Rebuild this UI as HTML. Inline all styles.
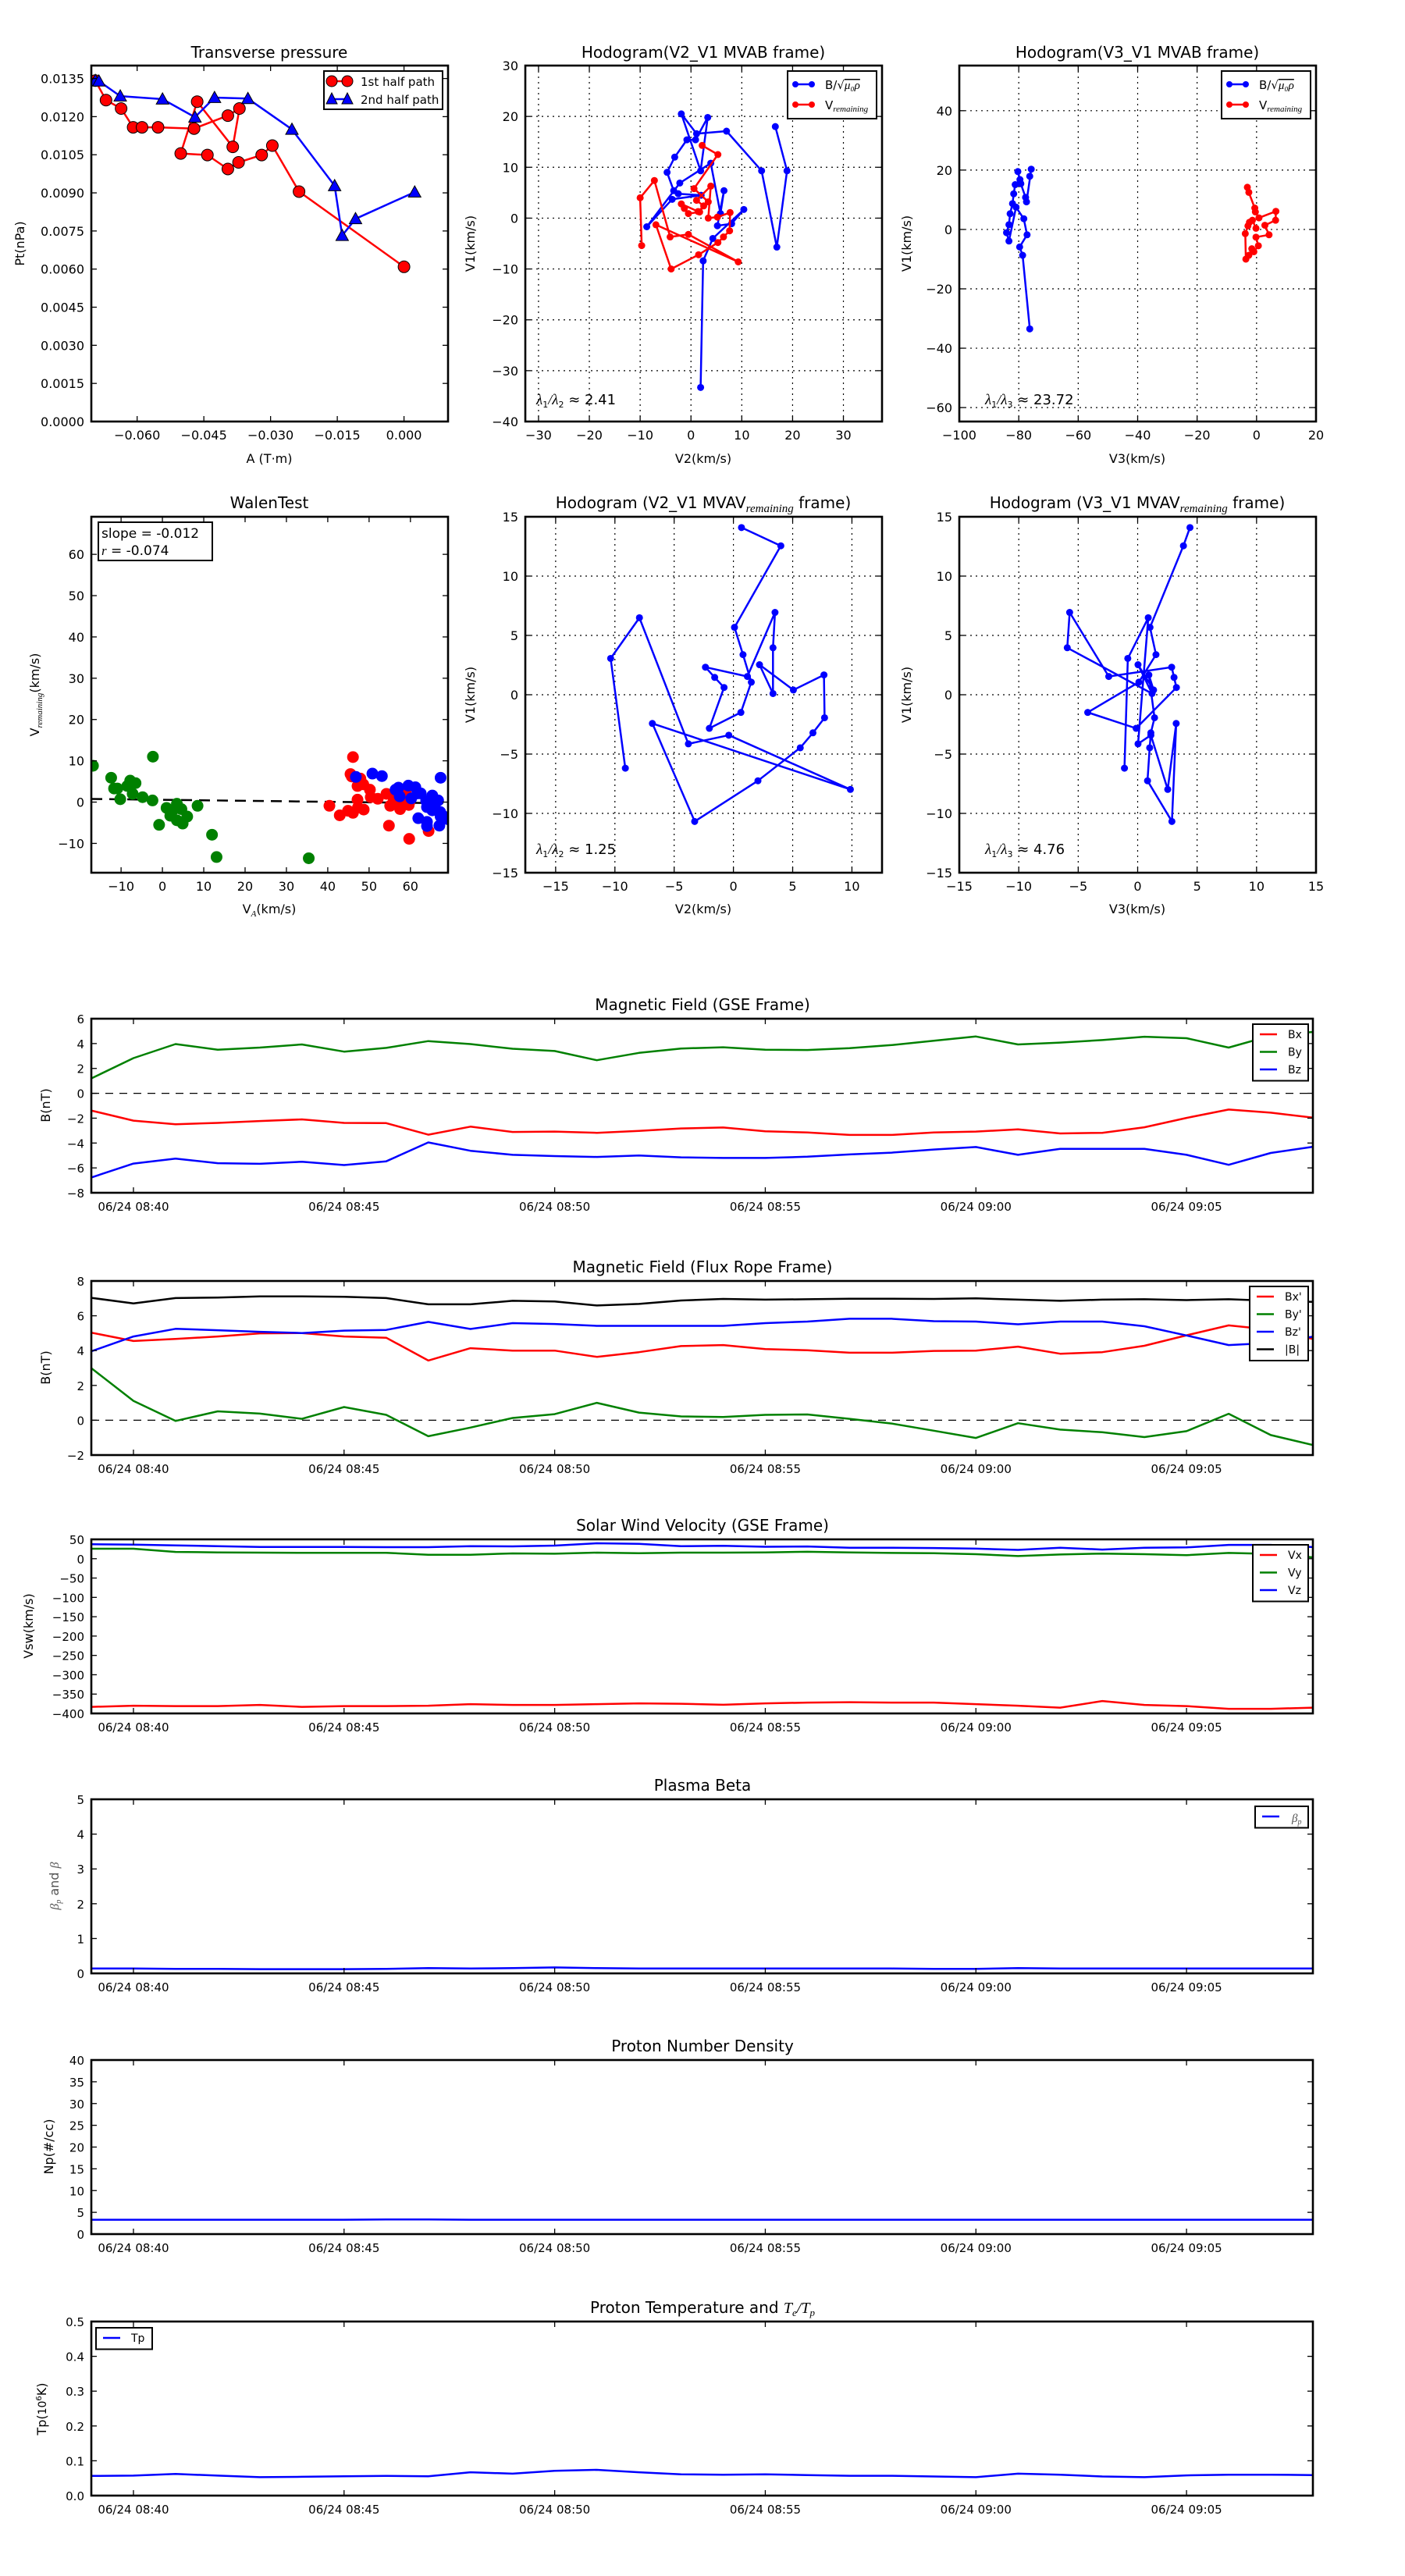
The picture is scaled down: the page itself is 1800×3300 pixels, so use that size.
<!DOCTYPE html>
<html><head><meta charset="utf-8">
<style>
html,body{margin:0;padding:0;background:#fff;}
svg{display:block;font-family:"DejaVu Sans","Liberation Sans",sans-serif;}
</style></head>
<body>
<svg id="fig" width="1800" height="3300" viewBox="0 0 1800 3300" xmlns="http://www.w3.org/2000/svg">
<rect x="0" y="0" width="1800" height="3300" fill="#fff"/>
</svg>
<script>
// ---------- DATA ----------
// Transverse pressure
const tpRedA = [-0.0694,-0.0670,-0.0636,-0.0609,-0.0589,-0.0553,-0.0472,-0.0396,-0.0370,-0.0385,-0.0465,-0.0502,-0.0442,-0.0396,-0.0372,-0.0320,-0.0296,-0.0236,0.0000];
const tpRedP = [0.01342,0.01265,0.01232,0.01158,0.01158,0.01158,0.01153,0.01204,0.01232,0.01081,0.01259,0.01055,0.01049,0.00994,0.01020,0.01049,0.01086,0.00905,0.00609];
const tpBlueA = [-0.0694,-0.0686,-0.0638,-0.0543,-0.0470,-0.0426,-0.0351,-0.0252,-0.0156,-0.0139,-0.0109,0.0024];
const tpBlueP = [0.01342,0.01340,0.01281,0.01269,0.01198,0.01275,0.01271,0.01150,0.00928,0.00732,0.00798,0.00903];
// Hodogram V2_V1 MVAB
const h1BV2 = [16.6,18.9,16.9,13.9,7.0,1.1,-1.9,1.9,3.3,0.9,-0.8,-3.2,-4.7,-3.4,-2.5,2.0,-3.7,-8.7,-2.2,3.9,5.8,6.5,5.2,8.0,10.4,4.3,2.4,1.9];
const h1BV1 = [18.0,9.3,-5.7,9.3,17.1,16.6,20.5,9.3,19.8,15.4,15.4,12.0,9.0,5.4,4.8,4.5,3.7,-1.7,6.9,10.8,0.9,5.4,-1.5,-1.1,1.7,-4.0,-8.4,-33.3];
const h1RV2 = [-9.7,-10.0,-7.2,-4.1,-0.5,9.3,-6.9,-3.9,1.5,5.3,6.4,7.6,7.7,5.2,3.4,3.9,1.1,2.5,1.7,-0.5,-1.3,-1.9,1.4,3.4,0.6,5.3,2.2];
const h1RV1 = [-5.4,4.0,7.4,-3.7,-3.2,-8.6,-1.3,-10.0,-7.2,-4.8,-3.7,-2.5,1.1,0.2,0.0,6.3,3.5,2.4,1.2,0.9,1.9,2.8,1.3,3.2,5.8,12.5,14.3];
// Hodogram V3_V1 MVAB
const h2BV3 = [-76.3,-75.8,-77.4,-77.7,-79.3,-80.3,-79.6,-81.2,-81.7,-82.1,-82.9,-83.3,-84.1,-83.3,-80.9,-78.3,-77.2,-79.7,-78.7,-76.3];
const h2BV1 = [17.9,20.3,9.3,10.8,15.4,19.5,16.8,15.1,12.0,8.7,5.3,1.6,-1.1,-3.9,7.5,3.6,-1.8,-5.9,-8.7,-33.5];
const h2RV3 = [-3.1,-2.6,-0.6,-0.4,0.8,6.5,6.4,2.8,4.2,-0.2,0.6,-0.9,-1.6,-2.6,-3.6,-3.8,-2.9,-2.4,-1.4,-0.2];
const h2RV1 = [14.2,12.5,7.2,5.9,3.9,6.1,3.1,1.4,-1.8,-2.6,-5.5,-7.5,-6.5,-8.7,-10.0,-1.4,1.2,2.4,3.1,0.4];
// Walen test
const walenGreenX = [-16.8,-12.4,-11.7,-10.9,-10.2,-8.5,-7.8,-6.5,-7.2,-4.8,-2.3,-2.4,-0.8,1.0,1.9,2.6,3.5,3.5,4.6,4.9,6.0,8.5,12.0,13.1,35.4];
const walenGreenY = [8.8,5.9,3.3,3.3,0.7,3.9,5.2,4.6,2.0,1.2,11.0,0.4,-5.5,-1.4,-3.3,-1.9,-0.4,-4.4,-1.7,-5.2,-3.5,-0.9,-7.9,-13.3,-13.6];
const walenRedX = [40.4,42.9,44.9,46.1,45.5,45.8,46.1,47.2,47.2,47.3,47.9,48.6,48.7,50.2,50.4,52.1,54.2,54.8,55.1,55.9,57.1,57.5,58.9,59.6,59.7,64.4,59.8];
const walenRedY = [-0.9,-3.2,-2.1,-2.6,6.8,6.2,10.9,3.9,0.6,-1.3,5.7,4.3,-1.8,3.0,1.2,0.8,2.0,-5.7,-0.9,1.0,0.1,-1.7,2.1,-0.7,-8.9,-7.0,0.1];
const walenBlueX = [46.8,50.8,53.1,56.4,57.1,57.4,59.5,60.2,61.2,61.7,62.5,61.9,63.8,64.0,64.0,64.0,65.3,65.3,65.9,66.7,67.2,67.3,67.3,67.0,68.1,68.9];
const walenBlueY = [6.1,6.9,6.3,3.0,3.5,1.4,4.0,0.9,3.6,2.1,2.1,-3.9,0.3,-1.2,-4.8,-5.8,1.6,-2.0,-0.6,0.4,-2.4,5.9,-3.5,-5.7,-3.5,-4.1];
const walenSlope = -0.012;
const walenIntercept = 0.55;
// Hodograms MVAV
const mvavV1 = [-6.19,3.06,6.49,-4.14,-3.41,-7.98,-2.42,-10.68,-7.25,-4.47,-3.21,-1.94,1.67,0.40,2.53,0.10,3.96,6.94,1.54,2.32,1.46,0.61,-2.83,-1.49,1.06,3.38,5.68,12.55,14.09];
const mvavV2 = [-9.12,-10.36,-7.93,-3.80,-0.39,9.87,-6.84,-3.27,2.07,5.64,6.71,7.69,7.64,5.06,2.20,3.34,3.34,3.51,1.18,-2.36,-1.58,-0.79,-2.03,0.63,1.51,0.81,0.09,4.0,0.68];
const mvavV3 = [-1.11,-0.83,0.89,0.03,1.11,2.53,3.24,2.88,0.83,1.01,1.11,1.42,0.94,1.34,0.03,1.21,-5.92,-5.72,-2.43,2.86,3.06,3.26,-0.13,-4.20,0.10,1.54,1.04,3.85,4.40];
// Time series (one sample per minute, 08:39 .. 09:08)
const times = ["08:39","08:40","08:41","08:42","08:43","08:44","08:45","08:46","08:47","08:48","08:49","08:50","08:51","08:52","08:53","08:54","08:55","08:56","08:57","08:58","08:59","09:00","09:01","09:02","09:03","09:04","09:05","09:06","09:07","09:08"];
const timeTicks = ["08:40","08:45","08:50","08:55","09:00","09:05"];
const gseBx = [-1.39,-2.2,-2.49,-2.38,-2.23,-2.1,-2.38,-2.4,-3.33,-2.68,-3.11,-3.08,-3.18,-3.03,-2.83,-2.75,-3.05,-3.15,-3.35,-3.35,-3.15,-3.08,-2.9,-3.23,-3.18,-2.73,-1.98,-1.31,-1.56,-1.96];
const gseBy = [1.2,2.83,3.96,3.51,3.68,3.93,3.35,3.65,4.2,3.96,3.58,3.4,2.66,3.25,3.6,3.7,3.51,3.48,3.63,3.88,4.23,4.57,3.93,4.08,4.28,4.55,4.43,3.68,4.63,4.93];
const gseBz = [-6.77,-5.65,-5.25,-5.62,-5.67,-5.5,-5.77,-5.47,-3.95,-4.62,-4.95,-5.05,-5.12,-5.0,-5.15,-5.2,-5.2,-5.1,-4.92,-4.77,-4.52,-4.32,-4.95,-4.47,-4.47,-4.47,-4.95,-5.75,-4.8,-4.3];
const frBx = [5.03,4.55,4.67,4.81,4.99,5.01,4.81,4.74,3.43,4.14,4.0,4.0,3.64,3.91,4.26,4.32,4.09,4.02,3.88,3.88,3.98,4.0,4.23,3.82,3.91,4.28,4.88,5.45,5.2,4.67];
const frBy = [2.99,1.11,-0.04,0.51,0.38,0.08,0.76,0.31,-0.92,-0.42,0.13,0.35,1.0,0.44,0.22,0.19,0.31,0.33,0.08,-0.19,-0.6,-1.02,-0.17,-0.54,-0.69,-0.97,-0.63,0.37,-0.85,-1.42];
const frBz = [3.96,4.81,5.25,5.17,5.08,5.01,5.15,5.19,5.65,5.24,5.58,5.53,5.42,5.42,5.42,5.42,5.58,5.67,5.83,5.83,5.69,5.67,5.51,5.67,5.67,5.4,4.87,4.32,4.44,4.8];
const frBt = [7.03,6.71,7.02,7.05,7.11,7.11,7.09,7.02,6.66,6.66,6.86,6.82,6.59,6.68,6.88,6.97,6.93,6.95,6.98,6.98,6.97,7.0,6.93,6.86,6.93,6.95,6.9,6.95,6.86,6.8];
const velVx = [-383,-380,-381,-381,-378,-383,-381,-381,-380,-376,-378,-378,-376,-374,-375,-377.6,-374,-372,-371,-372,-372,-376,-380,-385,-368,-378,-381,-388,-388,-385];
const velVy = [25.7,25.7,17.6,16.3,15.6,15,15,15,10.2,10.2,13.6,12.9,15.6,14.2,15.6,15.6,16.4,18,16.4,14.8,14,11.6,6.8,10.8,13.2,11.6,9.2,14.8,12.4,3.6];
const velVz = [37.2,36.5,34.5,32.5,30.4,30.4,30.4,29.8,29.8,32.5,31.8,33.8,39.9,38.5,32.5,33.2,30.8,31.6,28.4,28.4,27.6,26,22.8,28.4,23.6,28.4,29.2,35.6,35.6,30];
const betaP = [0.14,0.14,0.13,0.13,0.12,0.12,0.12,0.13,0.15,0.14,0.15,0.17,0.15,0.14,0.14,0.14,0.14,0.14,0.14,0.14,0.13,0.13,0.15,0.14,0.14,0.14,0.14,0.14,0.14,0.14];
const densNp = [3.3,3.3,3.3,3.3,3.3,3.3,3.3,3.35,3.35,3.3,3.3,3.3,3.3,3.3,3.3,3.3,3.3,3.3,3.3,3.3,3.3,3.3,3.3,3.3,3.3,3.3,3.3,3.3,3.3,3.3];
const tempTp = [0.0565,0.0575,0.062,0.0575,0.053,0.054,0.0555,0.0565,0.0555,0.067,0.063,0.071,0.074,0.067,0.061,0.060,0.061,0.059,0.057,0.057,0.055,0.053,0.063,0.060,0.055,0.053,0.058,0.060,0.060,0.059];

// ---------- HELPERS ----------
const NS = "http://www.w3.org/2000/svg";
const svg = document.getElementById('fig');
function mk(tag, attrs, parent){
  const e = document.createElementNS(NS, tag);
  for (const k in attrs) e.setAttribute(k, attrs[k]);
  (parent || svg).appendChild(e);
  return e;
}
function txt(parent, x, y, s, size, anchor, extra){
  const t = mk('text', Object.assign({x:x, y:y, 'font-size':size, 'text-anchor':anchor||'start', fill:'#000'}, extra||{}), parent);
  t.textContent = s;
  return t;
}
function minus(v, dec){ const s = Math.abs(v).toFixed(dec); return (v < -1e-12 ? '\u2212' : '') + s; }
let clipN = 0;
function axes(o){
  const g = mk('g', {});
  
  
  const sx = v => o.x + (v - o.xmin) / (o.xmax - o.xmin) * o.w;
  const sy = v => o.y + o.h - (v - o.ymin) / (o.ymax - o.ymin) * o.h;
  const id = 'clip' + (clipN++);
  const cp = mk('clipPath', {id:id}, g);
  mk('rect', {x:o.x, y:o.y, width:o.w, height:o.h}, cp);
  const grid = mk('g', {}, g);
  const data = mk('g', {'clip-path':'url(#' + id + ')'}, g);
  
  
  const frame = mk('g', {}, g);
  const tl = 7;
  o.xticks.forEach((v, i) => {
    const px = sx(v);
    if (o.grid) {
      const gl = mk('line', {x1:px, x2:px, y1:o.y, y2:o.y + o.h, stroke:'#000', 'stroke-width':1.2, 'stroke-dasharray':'2,5'}, grid);
      
      
    }
    mk('line', {x1:px, x2:px, y1:o.y + o.h, y2:o.y + o.h - tl, stroke:'#000', 'stroke-width':1.3}, frame);
    mk('line', {x1:px, x2:px, y1:o.y, y2:o.y + tl, stroke:'#000', 'stroke-width':1.3}, frame);
    const t = txt(frame, px, o.y + o.h + 23, o.xlabels[i], o.tickSize || 16, 'middle');
    
    
  });
  o.yticks.forEach((v, i) => {
    const py = sy(v);
    if (o.grid) {
      const gl = mk('line', {x1:o.x, x2:o.x + o.w, y1:py, y2:py, stroke:'#000', 'stroke-width':1.2, 'stroke-dasharray':'2,5'}, grid);
      
      
    }
    mk('line', {x1:o.x, x2:o.x + tl, y1:py, y2:py, stroke:'#000', 'stroke-width':1.3}, frame);
    mk('line', {x1:o.x + o.w, x2:o.x + o.w - tl, y1:py, y2:py, stroke:'#000', 'stroke-width':1.3}, frame);
    const t = txt(frame, o.x - 9, py + 6, o.ylabels[i], o.tickSize || 16, 'end');
    
    
  });
  const fr = mk('rect', {x:o.x, y:o.y, width:o.w, height:o.h, fill:'none', stroke:'#000', 'stroke-width':2.6}, frame);
  
  
  return {g:g, data:data, frame:frame, sx:sx, sy:sy, o:o};
}
function range(a, b, s){ const r = []; for (let v = a; v <= b + 1e-9; v += s) r.push(Math.round(v * 1e6) / 1e6); return r; }
function poly(ax, xs, ys, color, width, name){
  const pts = xs.map((v, i) => ax.sx(v).toFixed(1) + ',' + ax.sy(ys[i]).toFixed(1)).join(' ');
  const p = mk('polyline', {points:pts, fill:'none', stroke:color, 'stroke-width':width, 'stroke-linejoin':'round'}, ax.data);
  
  
  return p;
}
function dots(ax, xs, ys, color, r, stroke, name){
  xs.forEach((v, i) => {
    const c = mk('circle', {cx:ax.sx(v), cy:ax.sy(ys[i]), r:r, fill:color, stroke:stroke || 'none', 'stroke-width':1}, ax.data);
    
    
  });
}
function tris(ax, xs, ys, color, s, name){
  xs.forEach((v, i) => {
    const cx = ax.sx(v), cy = ax.sy(ys[i]);
    const p = mk('polygon', {points:(cx) + ',' + (cy - s) + ' ' + (cx - s) + ',' + (cy + s * 0.8) + ' ' + (cx + s) + ',' + (cy + s * 0.8), fill:color, stroke:'#000', 'stroke-width':1}, ax.data);
    
    
  });
}
function title(x, y, s, size){
  const t = txt(svg, x, y, s, size || 20, 'middle');
  
  
  return t;
}
function xlab(x, y, s){
  const t = txt(svg, x, y, s, 16, 'middle');
  
  
  return t;
}
function ylab(x, y, s){
  const t = txt(svg, x, y, s, 16, 'middle', {transform:'rotate(-90 ' + x + ' ' + y + ')'});
  
  
  return t;
}
function addSub(t, s, italic, size, dy){
  const ts = document.createElementNS(NS, 'tspan');
  ts.textContent = s;
  if (italic) { ts.setAttribute('font-style', 'italic'); ts.setAttribute('font-family', 'Liberation Serif, serif'); }
  if (size) ts.setAttribute('font-size', size);
  if (dy !== undefined) ts.setAttribute('dy', dy);
  t.appendChild(ts);
  return ts;
}

// ---------- PANEL 1: Transverse pressure ----------
const a1 = axes({name:'transverse-pressure-chart', x:117, y:84, w:457, h:456, xmin:-0.0703, xmax:0.0099, ymin:0, ymax:0.01401,
  xticks:[-0.06,-0.045,-0.03,-0.015,0], xlabels:['\u22120.060','\u22120.045','\u22120.030','\u22120.015','0.000'],
  yticks:range(0,0.0135,0.0015), ylabels:range(0,0.0135,0.0015).map(v => v.toFixed(4))});
poly(a1, tpRedA, tpRedP, '#ff0000', 2.5, 'first-half-path-line');
dots(a1, tpRedA, tpRedP, '#ff0000', 7.5, '#000', 'first-half-path-marker');
poly(a1, tpBlueA, tpBlueP, '#0000ff', 2.5, 'second-half-path-line');
tris(a1, tpBlueA, tpBlueP, '#0000ff', 8, 'second-half-path-marker');
title(345, 74, 'Transverse pressure');
xlab(345, 593, 'A (T\u00b7m)');
ylab(31, 312, 'Pt(nPa)');
{
  const lg = mk('g', {});
  
  
  mk('rect', {x:415, y:91, width:152, height:49, fill:'#fff', stroke:'#000', 'stroke-width':2}, lg);
  mk('line', {x1:425, x2:445, y1:104, y2:104, stroke:'#ff0000', 'stroke-width':2.5}, lg);
  mk('circle', {cx:425, cy:104, r:7, fill:'#ff0000', stroke:'#000'}, lg);
  mk('circle', {cx:445, cy:104, r:7, fill:'#ff0000', stroke:'#000'}, lg);
  const t1 = txt(lg, 462, 110, '1st half path', 15);
  
  
  mk('line', {x1:425, x2:445, y1:127, y2:127, stroke:'#0000ff', 'stroke-width':2.5}, lg);
  mk('polygon', {points:'425,119 418,133 432,133', fill:'#0000ff', stroke:'#000'}, lg);
  mk('polygon', {points:'445,119 438,133 452,133', fill:'#0000ff', stroke:'#000'}, lg);
  const t2 = txt(lg, 462, 133, '2nd half path', 15);
  
  
}

// hodogram legend helper
function hodoLegend(x0, name){
  const lg = mk('g', {});
  
  
  mk('rect', {x:x0, y:91, width:114, height:61, fill:'#fff', stroke:'#000', 'stroke-width':2}, lg);
  mk('line', {x1:x0 + 10, x2:x0 + 31, y1:108, y2:108, stroke:'#0000ff', 'stroke-width':2.5}, lg);
  mk('circle', {cx:x0 + 10, cy:108, r:4, fill:'#0000ff'}, lg);
  mk('circle', {cx:x0 + 31, cy:108, r:4, fill:'#0000ff'}, lg);
  const t1 = txt(lg, x0 + 48, 114, 'B/\u221a', 15);
  addSub(t1, '\u03bc\u2080\u03c1', true, 15).setAttribute('text-decoration', 'overline');
  
  
  mk('line', {x1:x0 + 10, x2:x0 + 31, y1:134, y2:134, stroke:'#ff0000', 'stroke-width':2.5}, lg);
  mk('circle', {cx:x0 + 10, cy:134, r:4, fill:'#ff0000'}, lg);
  mk('circle', {cx:x0 + 31, cy:134, r:4, fill:'#ff0000'}, lg);
  const t2 = txt(lg, x0 + 48, 140, 'V', 15);
  addSub(t2, 'remaining', true, 11, 3);
  
  
}
function lambdaNote(x, y, a, b, val){
  const t = txt(svg, x, y, '', 18);
  addSub(t, '\u03bb', true, 19);
  addSub(t, a, false, 11, 4);
  addSub(t, '/', true, 18, -4);
  addSub(t, '\u03bb', true, 19);
  addSub(t, b, false, 11, 4);
  addSub(t, ' \u2248 ' + val, false, 18, -4);
  
  
}

// ---------- PANEL 2: Hodogram V2_V1 MVAB ----------
const a2 = axes({name:'hodogram-v2-v1-mvab-chart', x:673, y:84, w:457, h:456, xmin:-32.6, xmax:37.6, ymin:-40, ymax:30, grid:true,
  xticks:range(-30,30,10), xlabels:range(-30,30,10).map(v => minus(v,0)),
  yticks:range(-40,30,10), ylabels:range(-40,30,10).map(v => minus(v,0))});
poly(a2, h1BV2, h1BV1, '#0000ff', 2.5, 'b-alfven-line');
dots(a2, h1BV2, h1BV1, '#0000ff', 4.5, null, 'b-alfven-point');
poly(a2, h1RV2, h1RV1, '#ff0000', 2.5, 'v-remaining-line');
dots(a2, h1RV2, h1RV1, '#ff0000', 4.5, null, 'v-remaining-point');
title(901, 74, 'Hodogram(V2_V1 MVAB frame)');
xlab(901, 593, 'V2(km/s)');
ylab(608, 312, 'V1(km/s)');
hodoLegend(1009, 'hodogram-v2-v1-legend');
lambdaNote(687, 518, '1', '2', '2.41');

// ---------- PANEL 3: Hodogram V3_V1 MVAB ----------
const a3 = axes({name:'hodogram-v3-v1-mvab-chart', x:1229, y:84, w:457, h:456, xmin:-100, xmax:20, ymin:-64.7, ymax:55.2, grid:true,
  xticks:range(-100,20,20), xlabels:range(-100,20,20).map(v => minus(v,0)),
  yticks:range(-60,40,20), ylabels:range(-60,40,20).map(v => minus(v,0))});
poly(a3, h2BV3, h2BV1, '#0000ff', 2.5, 'b-alfven-line');
dots(a3, h2BV3, h2BV1, '#0000ff', 4.5, null, 'b-alfven-point');
poly(a3, h2RV3, h2RV1, '#ff0000', 2.5, 'v-remaining-line');
dots(a3, h2RV3, h2RV1, '#ff0000', 4.5, null, 'v-remaining-point');
title(1457, 74, 'Hodogram(V3_V1 MVAB frame)');
xlab(1457, 593, 'V3(km/s)');
ylab(1167, 312, 'V1(km/s)');
hodoLegend(1565, 'hodogram-v3-v1-legend');
lambdaNote(1262, 518, '1', '3', '23.72');

// ---------- PANEL 4: Walen test ----------
const a4 = axes({name:'walen-test-chart', x:117, y:662, w:457, h:456, xmin:-17.2, xmax:69.1, ymin:-17.1, ymax:69.1,
  xticks:range(-10,60,10), xlabels:range(-10,60,10).map(v => minus(v,0)),
  yticks:range(-10,60,10), ylabels:range(-10,60,10).map(v => minus(v,0))});
{
  const fx = [a4.o.xmin, a4.o.xmax];
  const fy = fx.map(v => walenSlope * v + walenIntercept);
  const fl = poly(a4, fx, fy, '#000', 2.5, 'walen-fit-line');
  fl.setAttribute('stroke-dasharray', '14,9');
}
dots(a4, walenGreenX, walenGreenY, '#008000', 7.5, null, 'walen-point-green');
dots(a4, walenRedX, walenRedY, '#ff0000', 7.5, null, 'walen-point-red');
dots(a4, walenBlueX, walenBlueY, '#0000ff', 7.5, null, 'walen-point-blue');
title(345, 651, 'WalenTest');
{
  const t = xlab(345, 1170, 'V');
  addSub(t, 'A', true, 11, 4);
  addSub(t, '(km/s)', false, 16, -4);
  const y = ylab(50, 890, 'V');
  addSub(y, 'remaining', true, 11, 4);
  addSub(y, '(km/s)', false, 16, -4);
  const bx = mk('g', {});
  
  
  mk('rect', {x:126, y:669, width:146, height:49, fill:'#fff', stroke:'#000', 'stroke-width':2}, bx);
  const s1 = txt(bx, 130, 689, 'slope = ' + walenSlope.toFixed(3), 17);
  
  
  const s2 = txt(bx, 130, 711, '', 17);
  addSub(s2, 'r', true, 17);
  addSub(s2, ' = -0.074', false, 17);
  
  
}

// ---------- PANEL 5 & 6: MVAV hodograms ----------
const a5 = axes({name:'hodogram-v2-v1-mvav-chart', x:673, y:662, w:457, h:456, xmin:-17.56, xmax:12.54, ymin:-15, ymax:15, grid:true,
  xticks:range(-15,10,5), xlabels:range(-15,10,5).map(v => minus(v,0)),
  yticks:range(-15,15,5), ylabels:range(-15,15,5).map(v => minus(v,0))});
poly(a5, mvavV2, mvavV1, '#0000ff', 2.5, 'mvav-v2-v1-line');
dots(a5, mvavV2, mvavV1, '#0000ff', 4.5, null, 'mvav-v2-v1-point');
{
  const t = title(901, 651, 'Hodogram (V2_V1 MVAV');
  addSub(t, 'remaining', true, 15, 5);
  addSub(t, ' frame)', false, 20, -5);
}
xlab(901, 1170, 'V2(km/s)');
ylab(608, 890, 'V1(km/s)');
lambdaNote(687, 1094, '1', '2', '1.25');

const a6 = axes({name:'hodogram-v3-v1-mvav-chart', x:1229, y:662, w:457, h:456, xmin:-15, xmax:15, ymin:-15, ymax:15, grid:true,
  xticks:range(-15,15,5), xlabels:range(-15,15,5).map(v => minus(v,0)),
  yticks:range(-15,15,5), ylabels:range(-15,15,5).map(v => minus(v,0))});
poly(a6, mvavV3, mvavV1, '#0000ff', 2.5, 'mvav-v3-v1-line');
dots(a6, mvavV3, mvavV1, '#0000ff', 4.5, null, 'mvav-v3-v1-point');
{
  const t = title(1457, 651, 'Hodogram (V3_V1 MVAV');
  addSub(t, 'remaining', true, 15, 5);
  addSub(t, ' frame)', false, 20, -5);
}
xlab(1457, 1170, 'V3(km/s)');
ylab(1167, 890, 'V1(km/s)');
lambdaNote(1262, 1094, '1', '3', '4.76');

// ---------- TIME SERIES ----------
const tMin = times.map(s => { const p = s.split(':'); return (+p[0]) * 60 + (+p[1]); });
const tickMin = timeTicks.map(s => { const p = s.split(':'); return (+p[0]) * 60 + (+p[1]); });
function tsAxes(name, top, ymin, ymax, yticks, ylabels){
  return axes({name:name, x:117, y:top, w:1565, h:223, xmin:tMin[0], xmax:tMin[tMin.length - 1], ymin:ymin, ymax:ymax,
    xticks:tickMin, xlabels:timeTicks.map(s => '06/24 ' + s), yticks:yticks, ylabels:ylabels, tickSize:15});
}
function zeroLine(ax){
  const z = poly(ax, [ax.o.xmin, ax.o.xmax], [0, 0], '#000', 1.3, 'zero-reference-line');
  z.setAttribute('stroke-dasharray', '10,8');
}
function tsLegend(x0, y0, w, entries, name){
  const lg = mk('g', {});
  
  
  mk('rect', {x:x0, y:y0, width:w, height:entries.length * 22.5 + 5, fill:'#fff', stroke:'#000', 'stroke-width':2}, lg);
  entries.forEach((e, i) => {
    const cy = y0 + 13 + i * 22.5;
    mk('line', {x1:x0 + 9, x2:x0 + 31, y1:cy, y2:cy, stroke:e[1], 'stroke-width':2.5}, lg);
    const t = txt(lg, x0 + 45, cy + 5, e[0], 14);
    
    
  });
  return lg;
}
// GSE B
const b1 = tsAxes('magnetic-field-gse-chart', 1305, -8, 6, range(-8,6,2), range(-8,6,2).map(v => minus(v,0)));
zeroLine(b1);
poly(b1, tMin, gseBx, '#ff0000', 2.5, 'bx-line');
poly(b1, tMin, gseBy, '#008000', 2.5, 'by-line');
poly(b1, tMin, gseBz, '#0000ff', 2.5, 'bz-line');
title(900, 1294, 'Magnetic Field (GSE Frame)');
ylab(64, 1416, 'B(nT)');
tsLegend(1605, 1312, 71, [['Bx','#ff0000'],['By','#008000'],['Bz','#0000ff']], 'gse-field-legend');
// Flux rope B
const b2 = tsAxes('magnetic-field-flux-rope-chart', 1641, -2, 8, range(-2,8,2), range(-2,8,2).map(v => minus(v,0)));
zeroLine(b2);
poly(b2, tMin, frBx, '#ff0000', 2.5, 'bx-prime-line');
poly(b2, tMin, frBy, '#008000', 2.5, 'by-prime-line');
poly(b2, tMin, frBz, '#0000ff', 2.5, 'bz-prime-line');
poly(b2, tMin, frBt, '#000000', 2.5, 'b-magnitude-line');
title(900, 1630, 'Magnetic Field (Flux Rope Frame)');
ylab(64, 1752, 'B(nT)');
tsLegend(1601, 1648, 75, [["Bx'",'#ff0000'],["By'",'#008000'],["Bz'",'#0000ff'],['|B|','#000000']], 'flux-rope-field-legend');
// Velocity
const b3 = tsAxes('solar-wind-velocity-chart', 1972, -400, 50, range(-400,50,50), range(-400,50,50).map(v => minus(v,0)));
poly(b3, tMin, velVx, '#ff0000', 2.5, 'vx-line');
poly(b3, tMin, velVy, '#008000', 2.5, 'vy-line');
poly(b3, tMin, velVz, '#0000ff', 2.5, 'vz-line');
title(900, 1961, 'Solar Wind Velocity (GSE Frame)');
ylab(42, 2083, 'Vsw(km/s)');
tsLegend(1605, 1979, 71, [['Vx','#ff0000'],['Vy','#008000'],['Vz','#0000ff']], 'velocity-legend');
// Beta
const b4 = tsAxes('plasma-beta-chart', 2305, 0, 5, range(0,5,1), range(0,5,1).map(v => v.toFixed(0)));
poly(b4, tMin, betaP, '#0000ff', 2.5, 'beta-p-line');
title(900, 2294, 'Plasma Beta');
{
  const y = ylab(75, 2416, '');
  addSub(y, '\u03b2', true, 16);
  addSub(y, 'p', true, 10, 3);
  addSub(y, ' and ', false, 16, -3);
  addSub(y, '\u03b2', true, 16);
  y.setAttribute('fill', '#555');
  const lg = tsLegend(1608, 2314, 68, [['', '#0000ff']], 'beta-legend');
  const t = txt(lg, 1655, 2334, '', 15, 'start', {fill:'#555'});
  addSub(t, '\u03b2', true, 15);
  addSub(t, 'p', true, 10, 3);
  
  
}
// Density
const b5 = tsAxes('proton-density-chart', 2639, 0, 40, range(0,40,5), range(0,40,5).map(v => v.toFixed(0)));
poly(b5, tMin, densNp, '#0000ff', 2.5, 'np-line');
title(900, 2628, 'Proton Number Density');
ylab(68, 2750, 'Np(#/cc)');
// Temperature
const b6 = tsAxes('proton-temperature-chart', 2974, 0, 0.5, range(0,0.5,0.1), range(0,0.5,0.1).map(v => v.toFixed(1)));
poly(b6, tMin, tempTp, '#0000ff', 2.5, 'tp-line');
{
  const t = title(900, 2963, 'Proton Temperature and ');
  addSub(t, 'T', true, 20);
  addSub(t, 'e', true, 13, 4);
  addSub(t, '/', true, 20, -4);
  addSub(t, 'T', true, 20);
  addSub(t, 'p', true, 13, 4);
  const y = ylab(59, 3086, 'Tp(');
  addSub(y, '10', false, 14);
  addSub(y, '6', false, 10, -6);
  addSub(y, 'K)', false, 16, 6);
  tsLegend(123, 2982, 72, [['Tp', '#0000ff']], 'temperature-legend');
}
</script>
</body></html>
